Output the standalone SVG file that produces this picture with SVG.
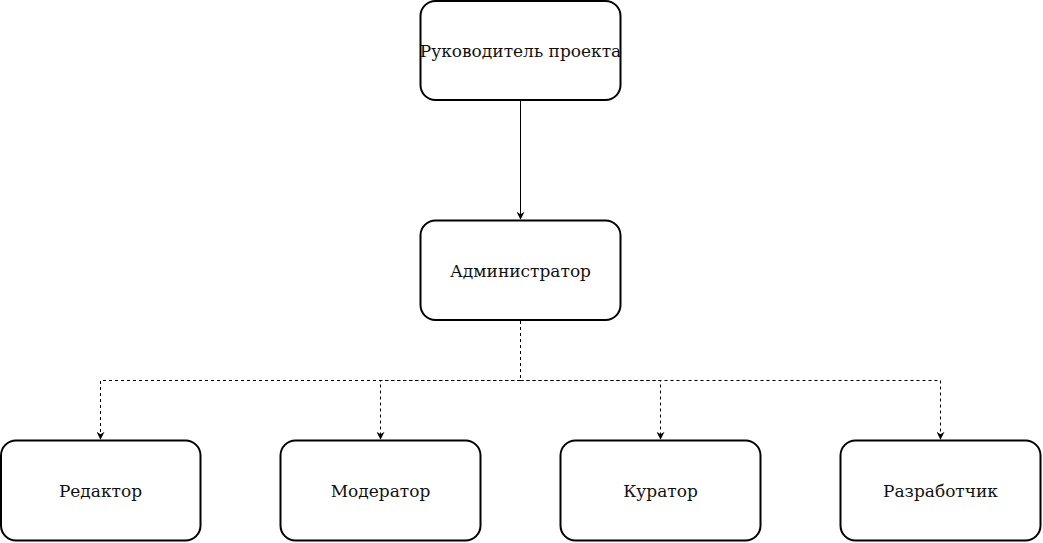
<svg xmlns="http://www.w3.org/2000/svg" width="1043" height="543" viewBox="0 0 1043 543">
  <style>
    .box { fill: #ffffff; stroke: #000000; stroke-width: 2; }
    .label { font-family: "DejaVu Serif", "Liberation Serif", serif; font-size: 17px; fill: #111111; text-anchor: middle; dominant-baseline: central; }
    .link { fill: none; stroke: #000000; stroke-width: 1; }
    .dashed { stroke-dasharray: 3 3; }
  </style>
  <defs>
    <marker id="arrow" viewBox="0 0 10 10" refX="9" refY="5" markerWidth="8" markerHeight="8" markerUnits="userSpaceOnUse" orient="auto">
      <path d="M0,0 L10,5 L0,10 L3,5 Z" fill="#000000"/>
    </marker>
  </defs>
  <rect width="1043" height="543" fill="#ffffff"/>

  <g id="connectors">
    <path class="link" d="M520.5,101 V219" marker-end="url(#arrow)"/>
    <path class="link dashed" d="M520.5,321 V380.5 H100.5 V439" marker-end="url(#arrow)"/>
    <path class="link dashed" d="M520.5,380.5 H380.5 V439" marker-end="url(#arrow)"/>
    <path class="link dashed" d="M520.5,380.5 H660.5 V439" marker-end="url(#arrow)"/>
    <path class="link dashed" d="M520.5,380.5 H940.5 V439" marker-end="url(#arrow)"/>
  </g>

  <g id="node-lead">
    <rect class="box" x="420.5" y="1" width="200" height="99" rx="15"/>
    <text class="label" x="520.5" y="50.5">Руководитель проекта</text>
  </g>
  <g id="node-admin">
    <rect class="box" x="420.5" y="220.5" width="200" height="99.5" rx="15"/>
    <text class="label" x="520.5" y="271">Администратор</text>
  </g>
  <g id="node-editor">
    <rect class="box" x="1" y="440.5" width="199.5" height="100" rx="15"/>
    <text class="label" x="100.5" y="491">Редактор</text>
  </g>
  <g id="node-moderator">
    <rect class="box" x="280.5" y="440.5" width="200" height="100" rx="15"/>
    <text class="label" x="380.5" y="491">Модератор</text>
  </g>
  <g id="node-curator">
    <rect class="box" x="560.5" y="440.5" width="200" height="100" rx="15"/>
    <text class="label" x="660.5" y="491">Куратор</text>
  </g>
  <g id="node-developer">
    <rect class="box" x="840.5" y="440.5" width="200" height="100" rx="15"/>
    <text class="label" x="940.5" y="491">Разработчик</text>
  </g>
</svg>
